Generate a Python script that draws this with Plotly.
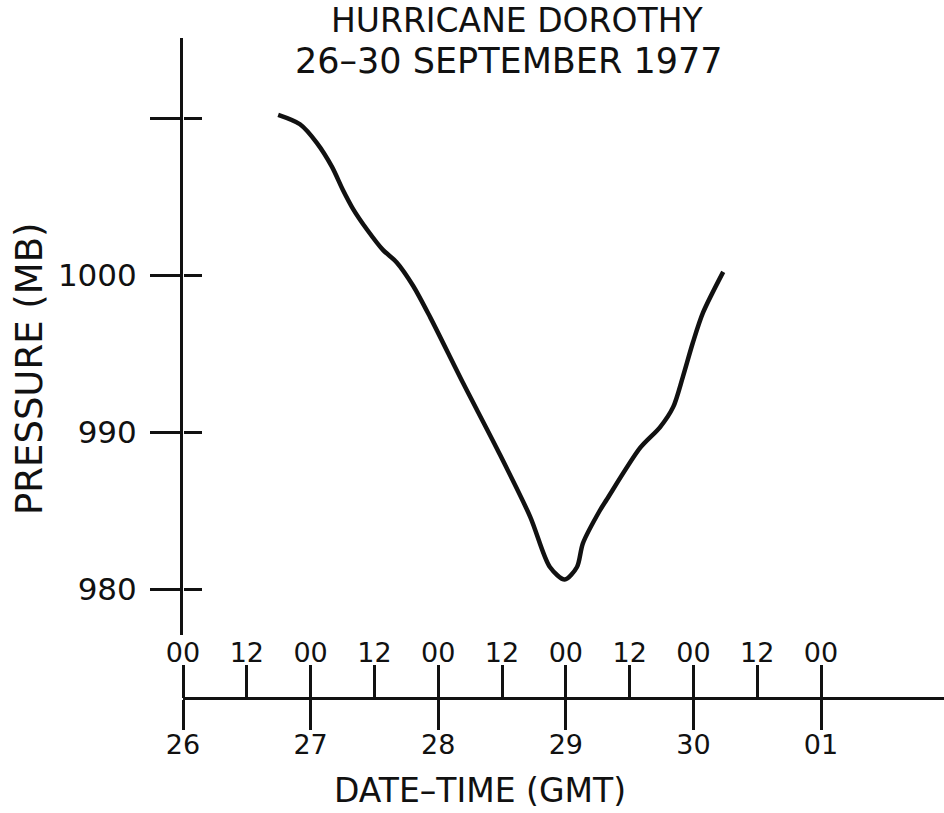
import plotly.graph_objects as go

# Hours after 26 Sep 1977 00 GMT, and central pressure (mb)
hours = [17.9, 22.0, 25.2, 28.0, 30.1, 32.0, 34.6, 37.6, 40.2, 43.3, 46.5,
         52.7, 59.1, 65.3, 69.0, 71.8, 74.1, 75.2, 78.4, 79.7, 86.0, 89.7,
         92.2, 94.0, 95.9, 97.8, 101.6]
pressure = [1010.2, 1009.6, 1008.4, 1006.9, 1005.4, 1004.2, 1002.9, 1001.6,
            1000.8, 999.3, 997.3, 993.1, 988.9, 984.6, 981.4, 980.6, 981.4,
            982.9, 985.0, 985.7, 989.0, 990.3, 991.6, 993.5, 995.7, 997.6,
            1000.2]

day_ticks = [0, 24, 48, 72, 96, 120]
day_labels = ["26", "27", "28", "29", "30", "01"]
hour_ticks = [0, 12, 24, 36, 48, 60, 72, 84, 96, 108, 120]
hour_labels = ["00", "12", "00", "12", "00", "12", "00", "12", "00", "12", "00"]
p_ticks = [980, 990, 1000, 1010]
p_labels = ["980", "990", "1000", ""]

W, H = 944, 813
x0_px, axis_px = 183, 698
px_per_h = 5.317
px_per_mb = 15.7
y_top_px, y_bot_px = 38, 635

x_range = [0, (W - x0_px) / px_per_h]
y_range = [1010 - (y_bot_px - 118) / px_per_mb, 1010 + (118 - y_top_px) / px_per_mb]
x_dom = [x0_px / W, 1]
y_dom = [1 - y_bot_px / H, 1 - y_top_px / H]
x_pos = 1 - axis_px / H

FONT = "DejaVu Sans"
INK = "#111111"

fig = go.Figure()
fig.add_trace(go.Scatter(x=hours, y=pressure, mode="lines",
                         line=dict(color=INK, width=4.5, shape="spline", smoothing=0.8),
                         hoverinfo="skip", showlegend=False))
fig.add_trace(go.Scatter(x=hours, y=pressure, xaxis="x2", yaxis="y2", mode="lines",
                         line=dict(color="rgba(0,0,0,0)", width=0),
                         hoverinfo="skip", showlegend=False))

fig.update_layout(
    width=W, height=H,
    margin=dict(l=0, r=0, t=0, b=0, pad=0),
    paper_bgcolor="white", plot_bgcolor="white",
    font=dict(family=FONT, color=INK),
    xaxis=dict(domain=x_dom, range=x_range, anchor="free", position=x_pos,
               automargin=False,
               showgrid=False, zeroline=False, showline=True, linecolor=INK, linewidth=3,
               tickmode="array", tickvals=day_ticks, ticktext=day_labels,
               ticks="outside", ticklen=30, tickwidth=3, tickcolor=INK,
               ticklabelstandoff=-8,
               tickfont=dict(size=27, family=FONT, color=INK)),
    xaxis2=dict(overlaying="x", side="top", anchor="free", position=x_pos,
                automargin=False,
                range=x_range, showgrid=False, zeroline=False, showline=False,
                tickmode="array", tickvals=hour_ticks, ticktext=hour_labels,
                ticks="outside", ticklen=33, tickwidth=3, tickcolor=INK,
                ticklabelstandoff=-8,
                tickfont=dict(size=27, family=FONT, color=INK)),
    yaxis=dict(domain=y_dom, range=y_range, anchor="x", automargin=False,
               showgrid=False, zeroline=False, showline=True, linecolor=INK, linewidth=3,
               tickmode="array", tickvals=p_ticks, ticktext=p_labels,
               ticks="outside", ticklen=30, tickwidth=3, tickcolor=INK,
               ticklabelstandoff=7,
               tickfont=dict(size=31, family=FONT, color=INK)),
    yaxis2=dict(overlaying="y", side="left", anchor="free", position=x0_px / W,
                automargin=False,
                range=y_range, showgrid=False, zeroline=False, showline=False,
                tickmode="array", tickvals=p_ticks, ticktext=["", "", "", ""],
                ticks="inside", ticklen=18, tickwidth=3, tickcolor=INK,
                showticklabels=False),
    annotations=[
        dict(text="HURRICANE DOROTHY", xref="paper", yref="paper",
             x=517 / W, y=1 - 21 / H, xanchor="center", yanchor="middle",
             borderpad=0,
             showarrow=False, font=dict(size=33, family=FONT, color=INK)),
        dict(text="26–30 SEPTEMBER 1977", xref="paper", yref="paper",
             x=509 / W, y=1 - 61 / H, xanchor="center", yanchor="middle",
             borderpad=0,
             showarrow=False, font=dict(size=35, family=FONT, color=INK)),
        dict(text="DATE–TIME (GMT)", xref="paper", yref="paper",
             x=480 / W, y=0.001, xanchor="center", yanchor="bottom",
             showarrow=False, font=dict(size=33, family=FONT, color=INK)),
        dict(text="PRESSURE (MB)", xref="paper", yref="paper", textangle=-90,
             x=29 / W, y=1 - 369 / H, xanchor="center", yanchor="middle",
             showarrow=False, font=dict(size=37, family=FONT, color=INK)),
    ],
)

fig.write_html(
    "out.html",
    config={"displayModeBar": False},
    post_script="document.body.style.margin='0';document.body.style.overflow='hidden';",
)
